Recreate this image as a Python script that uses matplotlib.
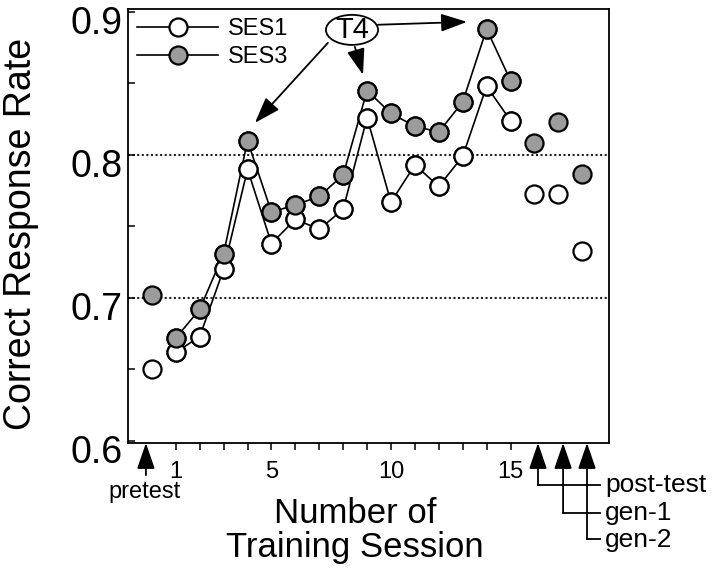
import numpy as np
import matplotlib
matplotlib.use("Agg")
import matplotlib.pyplot as plt
from matplotlib.patches import Ellipse
from matplotlib.transforms import blended_transform_factory, ScaledTranslation

plt.rcParams['font.family'] = ['Liberation Sans', 'DejaVu Sans']

# training sessions 1-15 are joined by lines
sessions = np.arange(1, 16)
ses1_train = [0.662, 0.673, 0.720, 0.790, 0.738, 0.755, 0.748, 0.762,
              0.826, 0.767, 0.793, 0.778, 0.799, 0.848, 0.824]
ses3_train = [0.672, 0.692, 0.731, 0.810, 0.760, 0.765, 0.771, 0.786,
              0.845, 0.829, 0.820, 0.816, 0.837, 0.888, 0.852]

# pretest (0), post-test (16), gen-1 (17), gen-2 (18): single points
test_x = [0, 16, 17, 18]
ses1_test = [0.650, 0.773, 0.773, 0.733]
ses3_test = [0.702, 0.808, 0.823, 0.787]

dotted_levels = [0.7, 0.8]
y_major = [0.6, 0.7, 0.8, 0.9]
y_minor = [0.65, 0.75, 0.85]
x_labelled = [1, 5, 10, 15]

fig = plt.figure(figsize=(7.17, 5.73), dpi=100)
ax = fig.add_axes([128 / 717, 1 - 443 / 573, 481 / 717, 434 / 573])

gray = '#9c9c9c'
mk = dict(marker='o', ms=13, mew=1.6, mec='black', color='black')

ax.plot(sessions, ses1_train, lw=1.2, mfc='white', label='SES1', zorder=2, **mk)
ax.plot(sessions, ses3_train, lw=1.2, mfc=gray, label='SES3', zorder=2, **mk)
# markers again on top so no line crosses a circle
ax.plot(sessions, ses1_train, ls='none', mfc='white', zorder=3, **mk)
ax.plot(sessions, ses3_train, ls='none', mfc=gray, zorder=3, **mk)
ax.plot(test_x, ses1_test, ls='none', mfc='white', zorder=3, **mk)
ax.plot(test_x, ses3_test, ls='none', mfc=gray, zorder=3, **mk)

for v in dotted_levels:
    ax.axhline(v, color='#222222', lw=1.5, ls=(0, (1, 1.2)), zorder=1)

ax.set_xlim(-1.0, 19.12)
ax.set_ylim(0.5986, 0.902)

ax.set_xticks(sessions)
ax.set_xticklabels([str(n) if n in x_labelled else '' for n in sessions])
ax.tick_params(axis='x', direction='out', length=5, width=1.1, labelsize=17, pad=8)

ax.set_yticks(y_major)
ax.set_yticks(y_minor, minor=True)
ax.set_yticklabels([f'{v:.1f}' for v in y_major])
ax.tick_params(axis='y', which='both', direction='in', length=5, width=1.1,
               labelsize=27, pad=4)
for lab in ax.get_yticklabels():
    lab.set_transform(lab.get_transform() + ScaledTranslation(0, -8 / 100, fig.dpi_scale_trans))

for s in ax.spines.values():
    s.set_linewidth(1.3)

ax.set_ylabel('Correct Response Rate', fontsize=27)
ax.yaxis.set_label_coords(-0.185, 0.482)

ax.legend(loc='upper left', frameon=False, fontsize=17, handlelength=3.4,
          handletextpad=0.45, labelspacing=0.25, borderpad=0.2,
          borderaxespad=0.2, numpoints=1)

# T4 callout
ax.add_patch(Ellipse((8.37, 0.8874), 2.18, 0.021, facecolor='white',
                     edgecolor='black', lw=1.3, zorder=5))
ax.text(8.37, 0.8872, 'T4', ha='center', va='center', fontsize=21, zorder=6)

head = dict(arrowstyle='-|>,head_length=16,head_width=5.5', mutation_scale=1,
            color='black', lw=1.3, shrinkA=0, shrinkB=0)
for start, tip in [((7.36, 0.8783), (4.31, 0.8224)),
                   ((8.49, 0.8755), (8.83, 0.8560)),
                   ((9.46, 0.8910), (13.18, 0.8930))]:
    ax.annotate('', xy=tip, xytext=start, arrowprops=head, zorder=6)

# markers below the x axis
trans = blended_transform_factory(ax.transData, ax.transAxes)
ax.annotate('', xy=(-0.25, 0.0), xytext=(-0.25, -0.074), xycoords=trans,
            textcoords=trans, arrowprops=head, annotation_clip=False)
ax.text(-0.29, -0.088, 'pretest', transform=trans, ha='center', va='top', fontsize=17)

test_arrows = [(16.15, -0.097, -0.113, 'post-test'),
               (17.2, -0.161, -0.177, 'gen-1'),
               (18.2, -0.221, -0.240, 'gen-2')]
for x, ybot, ybase, name in test_arrows:
    ax.annotate('', xy=(x, 0.0), xytext=(x, ybot), xycoords=trans,
                textcoords=trans, arrowprops=head, annotation_clip=False)
    ax.plot([x, 18.74], [ybot, ybot], transform=trans, clip_on=False,
            color='black', lw=1.3)
    ax.text(18.95, ybase, name, transform=trans, ha='left', va='baseline', fontsize=19)

ax.text(8.5, -0.184, 'Number of', transform=trans, ha='center', va='baseline', fontsize=25)
ax.text(8.5, -0.263, 'Training Session', transform=trans, ha='center', va='baseline', fontsize=25)

fig.savefig('out.png', dpi=100)
